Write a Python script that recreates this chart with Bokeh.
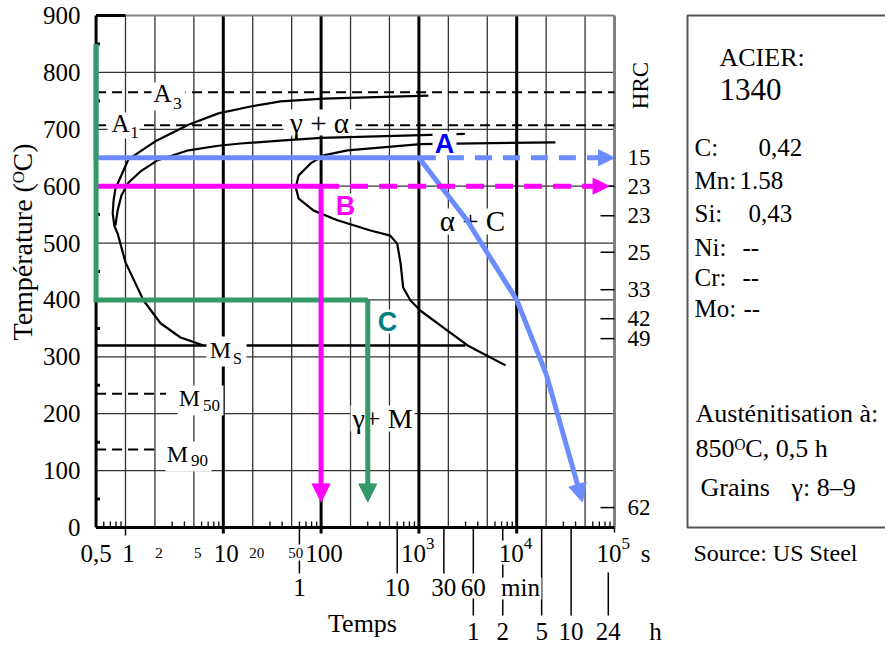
import math
from bokeh.plotting import figure
from bokeh.models import Range1d, FixedTicker, Arrow, NormalHead, Title
from bokeh.core.properties import value
from bokeh.embed import file_html
from bokeh.resources import INLINE

SERIF = "Liberation Serif"
SANS = "Liberation Sans"

# ---------------- data ----------------
temp_ticks = [0, 100, 200, 300, 400, 500, 600, 700, 800, 900]
temp_minor = [50, 150, 250, 350, 450, 550, 650, 750, 850]
grid_temps = [100, 200, 300, 400, 500, 600, 700, 800]
grid_times_thin = [1, 2, 5, 20, 50, 200, 500, 2000, 5000, 20000, 50000]
grid_times_bold = [10, 100, 1000, 10000]
sec_labels = ["1", "10", "100"]
sec_times = [1, 10, 100]
sec_small_labels = ["2", "5", "20", "50"]
sec_small_times = [2, 5, 20, 50]
pow_exps = ["3", "4", "5"]
pow_times = [1000, 10000, 100000]
min_labels = ["1", "10", "30", "60"]
min_times = [60, 600, 1800, 3600]
hour_labels = ["1", "2", "5", "10", "24"]
hour_times = [3600, 7200, 18000, 36000, 86400]
hrc_labels = ["15", "23", "23", "25", "33", "42", "49", "62"]
hrc_temps = [650, 600, 548, 484, 418, 367, 332, 35]

t_min, t_max = 0.5, 100000
A3_temp, A1_temp = 765, 707
Ms_temp, M50_temp, M90_temp = 320, 235, 137
Ms_end, M50_end, M90_end = 3000, 2.6, 2.1

# start of transformation (ferrite start)
start_t = [1250, 106, 38.5, 19, 8.9, 4.4, 2.07, 1.07, 0.79, 0.755, 0.74, 0.77, 0.83, 1.0, 1.53, 2.28, 3.65, 6.3]
start_T = [759, 754, 749, 740, 728, 708, 680, 647, 596, 575, 552, 530, 517, 466, 399, 359, 334, 320]
# pearlite start
pearl_t = [2950, 700, 100, 38, 15, 8.9, 4.4, 2.1, 1.45, 1.07, 0.91, 0.83, 0.79]
pearl_T = [692, 689, 685, 680, 675, 671, 663, 645, 627, 606, 584, 557, 531]
# end of transformation
end_t = [24900, 1040, 186, 106, 78, 59, 55, 59, 84, 147, 320, 510, 600, 650, 690, 820, 1040, 1960, 3150, 5400, 7700]
end_T = [677, 674, 663, 654, 640, 619, 598, 578, 557, 540, 522, 513, 499, 464, 422, 399, 381, 346, 320, 299, 285]

# cooling paths
pathA_t = [0.5, 0.5, 1000, 3100, 10000, 20000]
pathA_T = [850, 650, 650, 540, 400, 270]
pathA_tip = (47000, 45)
pathA_dash_end = 100000
pathB_t = [0.5, 100]
pathB_T = [600, 600]
pathB_tip = (100, 45)
pathB_dash_end = 88000
pathC_t = [0.5, 0.5, 300]
pathC_T = [850, 400, 400]
pathC_tip = (300, 45)

elements = ["C:", "Mn:", "Si:", "Ni:", "Cr:", "Mo:"]
contents = ["0,42", "1.58", "0,43", "--", "--", "--"]

# ---------------- layout helpers (page pixel -> data) ----------------
DEC = 97.8      # px per decade
X1 = 125.0      # page x of t = 1 s
Y0 = 527.0      # page y of 0 degC
K = 512.0 / 900.0


def tx(xp):
    return 10 ** ((xp - X1) / DEC)


def ty(yp):
    return (Y0 - yp) / K


XL, XR, YT, YB = 78, 885, 12, 645

p = figure(width=XR, height=YB, x_axis_type="log",
           x_range=Range1d(tx(XL), tx(XR)), y_range=Range1d(ty(YB), ty(YT)),
           x_axis_location=None, y_axis_location="left",
           output_backend="svg", toolbar_location=None,
           min_border_left=XL, min_border_right=0,
           min_border_top=YT, min_border_bottom=0)
p.outline_line_color = None
p.grid.visible = False

ax = p.yaxis[0]
ax.ticker = FixedTicker(ticks=temp_ticks)
ax.axis_line_color = None
ax.major_tick_line_color = None
ax.minor_tick_line_color = None
ax.major_tick_in = 0
ax.major_tick_out = 0
ax.minor_tick_in = 0
ax.minor_tick_out = 0
ax.major_label_text_font = SERIF
ax.major_label_text_font_size = "25px"
ax.major_label_text_color = "black"
ax.major_label_standoff = -2

p.add_layout(Title(text="Température (ᴼC)", align="left", offset=YB - 340,
                   text_font=SERIF, text_font_size="28px",
                   text_font_style="normal", text_color="black", standoff=4),
             "left")


def txt(x, y, s, size=24, align="center", font=SERIF, style="normal",
        color="black", angle=0.0, xo=0, yo=0):
    p.text(x=[x], y=[y], text=[s], text_font=value(font),
           text_font_size=f"{size}px", text_font_style=style,
           text_color=color, text_align=align, text_baseline="middle",
           angle=angle, x_offset=xo, y_offset=yo)


def bg(x, y, w, h):
    p.rect(x=[x], y=[y], width=w, height=h, width_units="screen",
           height_units="screen", fill_color="white", line_color=None)


# ---------------- grid ----------------
n = len(grid_temps)
p.segment(x0=[t_min] * n, y0=grid_temps, x1=[t_max] * n, y1=grid_temps,
          line_color="#333333", line_width=1.3)
n = len(grid_times_thin)
p.segment(x0=grid_times_thin, y0=[0] * n, x1=grid_times_thin, y1=[900] * n,
          line_color="#333333", line_width=1.3)
n = len(grid_times_bold)
p.segment(x0=grid_times_bold, y0=[ty(533)] * n, x1=grid_times_bold, y1=[900] * n,
          line_color="black", line_width=3)
p.segment(x0=[1, t_max], y0=[ty(535), ty(532)], x1=[1, t_max], y1=[0, 0],
          line_color="black", line_width=1.5)

# minor log ticks on the time axis
log_minor = [k * 10 ** d for d in range(-1, 5) for k in (3, 4, 6, 7, 8, 9)
             if t_min < k * 10 ** d < t_max]
n = len(log_minor)
p.segment(x0=log_minor, y0=[0] * n, x1=log_minor, y1=[ty(521)] * n,
          line_color="black", line_width=1.3)

# frame
p.segment(x0=[t_min], y0=[900], x1=[t_max], y1=[900], line_color="#808080", line_width=2)
p.segment(x0=[t_min], y0=[900], x1=[1], y1=[900], line_color="black", line_width=3)
p.segment(x0=[t_max], y0=[0], x1=[t_max], y1=[900], line_color="#808080", line_width=3)
p.segment(x0=[t_min], y0=[0], x1=[t_max], y1=[0], line_color="black", line_width=3)
p.segment(x0=[t_min], y0=[0], x1=[t_min], y1=[900], line_color="black", line_width=3)
n = len(temp_minor)
p.segment(x0=[t_min] * n, y0=temp_minor, x1=[tx(99.5)] * n, y1=temp_minor,
          line_color="black", line_width=3)

# HRC ticks
n = len(hrc_temps)
p.segment(x0=[tx(600)] * n, y0=hrc_temps, x1=[t_max] * n, y1=hrc_temps,
          line_color="black", line_width=1.5)

# critical temperature lines
p.segment(x0=[t_min, t_min], y0=[A3_temp, A1_temp], x1=[t_max, t_max],
          y1=[A3_temp, A1_temp], line_color="black", line_width=2, line_dash="10 6")
p.segment(x0=[t_min, t_min], y0=[M50_temp, M90_temp], x1=[M50_end, M90_end],
          y1=[M50_temp, M90_temp], line_color="black", line_width=2, line_dash="10 6")
p.segment(x0=[t_min], y0=[Ms_temp], x1=[Ms_end], y1=[Ms_temp],
          line_color="black", line_width=2.5)

# transformation curves
for xs, ys in ((start_t, start_T), (pearl_t, pearl_T), (end_t, end_T)):
    p.line(xs, ys, line_color="black", line_width=2.2, line_join="round")

# ---------------- in-chart labels ----------------
bg(tx(168), ty(96), 34, 28)
txt(tx(162), ty(93), "A", 25)
txt(tx(177), ty(103), "3", 17)
bg(tx(123), ty(125), 32, 26)
txt(tx(120), ty(123), "A", 25)
txt(tx(134), ty(132), "1", 17)
bg(tx(319), ty(122), 72, 26)
txt(tx(319), ty(122), "γ + α", 29)
bg(tx(226), ty(351), 40, 30)
txt(tx(220), ty(349), "M", 24)
txt(tx(237), ty(358), "S", 16)
bg(tx(200), ty(400), 46, 30)
txt(tx(189), ty(397), "M", 24)
txt(tx(211), ty(405), "50", 17)
bg(tx(188), ty(456), 46, 30)
txt(tx(177), ty(453), "M", 24)
txt(tx(199), ty(460), "90", 17)
bg(tx(472), ty(221), 70, 26)
txt(tx(472), ty(220), "α + C", 29)
bg(tx(382), ty(418), 64, 26)
txt(tx(382), ty(418), "γ+ M", 28)
bg(tx(444), ty(143), 24, 24)
txt(tx(444), ty(143), "A", 27, font=SANS, style="bold", color="#0000ff")
bg(tx(345), ty(205), 24, 24)
txt(tx(345), ty(205), "B", 27, font=SANS, style="bold", color="#ff00ff")
bg(tx(387), ty(321), 24, 24)
txt(tx(387), ty(321), "C", 27, font=SANS, style="bold", color="#008080")

# ---------------- time axis labels ----------------
n = len(min_times)
p.segment(x0=min_times, y0=[ty(528)] * n, x1=min_times, y1=[ty(573)] * n,
          line_color="black", line_width=1.5)
hour_tick_top = [598, 528, 528, 528, 572]
p.segment(x0=hour_times, y0=[ty(v) for v in hour_tick_top], x1=hour_times,
          y1=[ty(615)] * len(hour_times), line_color="black", line_width=1.5)

bg(tx(297), ty(552), 18, 16)
bg(tx(518), ty(552), 36, 24)
bg(tx(520), ty(588), 42, 22)

txt(t_min, ty(553), "0,5", 25)
for s, tv in zip(sec_labels, sec_times):
    txt(tv, ty(553), s, 25, xo=3)
for s, tv in zip(sec_small_labels, sec_small_times):
    txt(tv, ty(552), s, 15, xo=4)
for s, tv in zip(pow_exps, pow_times):
    txt(tv, ty(553), "10", 25, align="right", xo=7)
    txt(tv, ty(543), s, 17, align="left", xo=7)
txt(tx(645), ty(553), "s", 25)
for s, tv in zip(min_labels, min_times):
    txt(tv, ty(587), s, 25)
txt(tx(520), ty(587), "min", 25)
for s, tv in zip(hour_labels, hour_times):
    txt(tv, ty(631), s, 25)
txt(tx(655), ty(631), "h", 25)
txt(tx(362), ty(623), "Temps", 26)

# HRC scale
for s, tv in zip(hrc_labels, hrc_temps):
    txt(tx(627), tv, s, 23, align="left")
txt(tx(640), ty(85), "HRC", 23, angle=math.pi / 2)

# ---------------- cooling paths ----------------
BLUE, MAG, GREEN = "#6b8cff", "#ff00ff", "#339966"
p.line(pathA_t, pathA_T, line_color=BLUE, line_width=5, line_join="miter")
p.line(pathB_t, pathB_T, line_color=MAG, line_width=5, line_join="miter")
p.line(pathC_t, pathC_T, line_color=GREEN, line_width=5, line_join="miter")


def arrow(x0, y0, x1, y1, color, dash="solid", size=18):
    p.add_layout(Arrow(end=NormalHead(size=size, fill_color=color, line_color=color),
                       x_start=x0, y_start=y0, x_end=x1, y_end=y1,
                       line_color=color, line_width=5, line_dash=dash))


arrow(pathA_t[2], pathA_T[2], pathA_dash_end, pathA_T[2], BLUE, "17 11", 16)
arrow(pathB_t[-1], pathB_T[-1], pathB_dash_end, pathB_T[-1], MAG, "18 11", 16)
arrow(pathA_t[-1], pathA_T[-1], pathA_tip[0], pathA_tip[1], BLUE)
arrow(pathB_t[-1], pathB_T[-1], pathB_tip[0], pathB_tip[1], MAG)
arrow(pathC_t[-1], pathC_T[-1], pathC_tip[0], pathC_tip[1], GREEN)

# ---------------- side panel ----------------
p.quad(left=[tx(687)], right=[tx(900)], bottom=[0], top=[900], fill_color=None,
       line_color="#555555", line_width=2)
txt(tx(719), ty(57), "ACIER:", 26, align="left")
txt(tx(719), ty(89), "1340", 31, align="left")
row_y = [147, 180, 213, 247, 277, 308]
val_x = [758, 739, 748, 742, 742, 743]
for e, c, yy, xx in zip(elements, contents, row_y, val_x):
    txt(tx(694), ty(yy), e, 25, align="left")
    txt(tx(xx), ty(yy), c, 25, align="left")
txt(tx(695), ty(413), "Austénitisation à:", 26, align="left")
txt(tx(695), ty(448), "850ᴼC, 0,5 h", 26, align="left")
txt(tx(700), ty(487), "Grains", 26, align="left")
txt(tx(791), ty(487), "γ: 8–9", 26, align="left")
txt(tx(693), ty(552), "Source: US Steel", 24, align="left")

open("out.html", "w").write(file_html(p, INLINE, "TTT 1340"))
